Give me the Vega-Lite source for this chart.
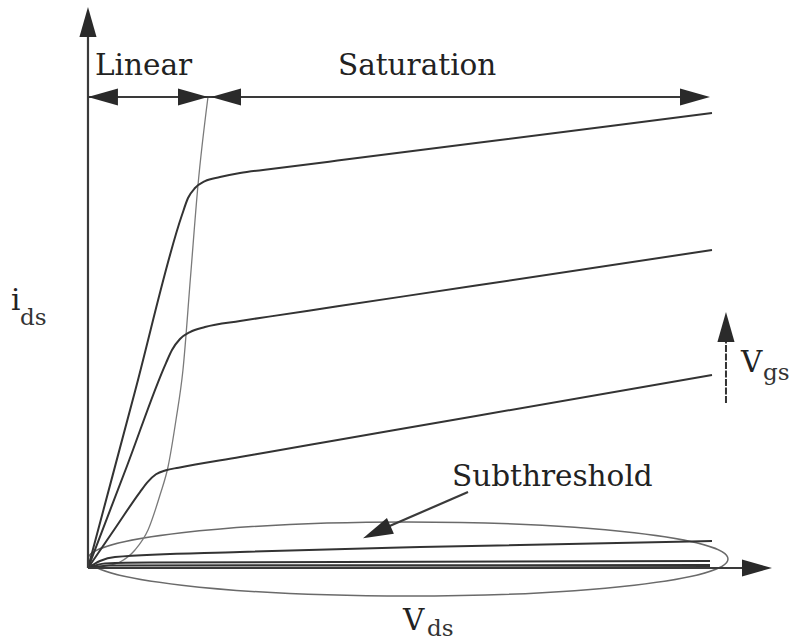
{
  "$schema": "https://vega.github.io/schema/vega-lite/v6.json",
  "width": 791,
  "height": 642,
  "autosize": {"type": "fit", "contains": "padding"},
  "padding": 0,
  "background": "white",
  "config": {"view": {"stroke": null}},
  "datasets": {
    "drain": [
      {"curve": "c3", "v": 0, "i": 0},
      {"curve": "c3", "v": 0.753, "i": 3.879},
      {"curve": "c3", "v": 1.506, "i": 7.758},
      {"curve": "c3", "v": 1.603, "i": 8.132},
      {"curve": "c3", "v": 1.715, "i": 8.352},
      {"curve": "c3", "v": 1.875, "i": 8.505},
      {"curve": "c3", "v": 2.115, "i": 8.593},
      {"curve": "c3", "v": 2.436, "i": 8.681},
      {"curve": "c3", "v": 2.9, "i": 8.762},
      {"curve": "c3", "v": 4.0, "i": 8.954},
      {"curve": "c3", "v": 6.218, "i": 9.341},
      {"curve": "c3", "v": 10, "i": 10},
      {"curve": "c2", "v": 0, "i": 0},
      {"curve": "c2", "v": 0.625, "i": 2.242},
      {"curve": "c2", "v": 1.25, "i": 4.505},
      {"curve": "c2", "v": 1.346, "i": 4.791},
      {"curve": "c2", "v": 1.474, "i": 5.033},
      {"curve": "c2", "v": 1.635, "i": 5.187},
      {"curve": "c2", "v": 1.875, "i": 5.297},
      {"curve": "c2", "v": 2.436, "i": 5.429},
      {"curve": "c2", "v": 2.9, "i": 5.525},
      {"curve": "c2", "v": 4.0, "i": 5.752},
      {"curve": "c2", "v": 6.218, "i": 6.209},
      {"curve": "c2", "v": 10, "i": 6.989},
      {"curve": "c1", "v": 0, "i": 0},
      {"curve": "c1", "v": 0.449, "i": 0.901},
      {"curve": "c1", "v": 0.833, "i": 1.67},
      {"curve": "c1", "v": 0.962, "i": 1.9},
      {"curve": "c1", "v": 1.09, "i": 2.06},
      {"curve": "c1", "v": 1.25, "i": 2.15},
      {"curve": "c1", "v": 1.45, "i": 2.205},
      {"curve": "c1", "v": 2.436, "i": 2.44},
      {"curve": "c1", "v": 2.9, "i": 2.551},
      {"curve": "c1", "v": 4.0, "i": 2.813},
      {"curve": "c1", "v": 6.218, "i": 3.341},
      {"curve": "c1", "v": 10, "i": 4.242},
      {"curve": "s1", "v": 0, "i": 0},
      {"curve": "s1", "v": 0.192, "i": 0.154},
      {"curve": "s1", "v": 0.433, "i": 0.242},
      {"curve": "s1", "v": 2.436, "i": 0.352},
      {"curve": "s1", "v": 5.321, "i": 0.462},
      {"curve": "s1", "v": 10, "i": 0.593},
      {"curve": "s2", "v": 0, "i": 0},
      {"curve": "s2", "v": 0.272, "i": 0.099},
      {"curve": "s2", "v": 0.994, "i": 0.121},
      {"curve": "s2", "v": 9.968, "i": 0.154},
      {"curve": "s3", "v": 0, "i": 0},
      {"curve": "s3", "v": 0.353, "i": 0.055},
      {"curve": "s3", "v": 9.968, "i": 0.066},
      {"curve": "s4", "v": 0, "i": 0},
      {"curve": "s4", "v": 9.968, "i": 0.02}
    ],
    "edge": [
      {"v": 0, "i": 0},
      {"v": 0.272, "i": 0.044},
      {"v": 0.513, "i": 0.132},
      {"v": 0.753, "i": 0.396},
      {"v": 0.962, "i": 0.835},
      {"v": 1.154, "i": 1.604},
      {"v": 1.282, "i": 2.22},
      {"v": 1.41, "i": 3.253},
      {"v": 1.522, "i": 4.352},
      {"v": 1.643, "i": 6.396},
      {"v": 1.763, "i": 8.418},
      {"v": 1.923, "i": 10.352}
    ],
    "segments": [
      {"seg": "yaxis", "v": 0, "i": 0},
      {"seg": "yaxis", "v": 0, "i": 12.044},
      {"seg": "xaxis", "v": 0, "i": 0},
      {"seg": "xaxis", "v": 10.769, "i": 0},
      {"seg": "regions", "v": 0, "i": 10.352},
      {"seg": "regions", "v": 9.808, "i": 10.352},
      {"seg": "pointer", "v": 4.76, "i": 0.879},
      {"seg": "pointer", "v": 6.09, "i": 1.67}
    ],
    "vgs": [
      {"v": 10.224, "i": 3.626},
      {"v": 10.224, "i": 5.121}
    ],
    "heads": [
      {"v": 0, "i": 12.0, "points": "up"},
      {"v": 10.721, "i": 0, "points": "right"},
      {"v": 0.24, "i": 10.352, "points": "left"},
      {"v": 1.683, "i": 10.352, "points": "right"},
      {"v": 2.212, "i": 10.352, "points": "left"},
      {"v": 9.728, "i": 10.352, "points": "right"},
      {"v": 10.224, "i": 5.297, "points": "up"},
      {"v": 4.627, "i": 0.791, "points": "down-left"}
    ],
    "subthreshold": [
      {"v": 5.128, "i": 0.198}
    ],
    "labels": [
      {"text": "Linear", "v": 0.112, "i": 10.835, "kind": "main"},
      {"text": "Saturation", "v": 4.006, "i": 10.835, "kind": "main"},
      {"text": "Subthreshold", "v": 5.833, "i": 1.802, "kind": "main"},
      {"text": "i", "v": -1.234, "i": 5.67, "kind": "main"},
      {"text": "ds", "v": -1.09, "i": 5.341, "kind": "sub"},
      {"text": "V", "v": 10.465, "i": 4.308, "kind": "main"},
      {"text": "gs", "v": 10.817, "i": 4.132, "kind": "sub"},
      {"text": "V", "v": 5.048, "i": -1.363, "kind": "main"},
      {"text": "ds", "v": 5.433, "i": -1.495, "kind": "sub"}
    ]
  },
  "encoding": {
    "x": {"field": "v", "type": "quantitative", "axis": null,
          "scale": {"domain": [-1.41, 11.266], "nice": false, "zero": false}},
    "y": {"field": "i", "type": "quantitative", "axis": null,
          "scale": {"domain": [-1.626, 12.484], "nice": false, "zero": false}}
  },
  "layer": [
    {
      "data": {"name": "subthreshold"},
      "mark": {
        "type": "point",
        "shape": "M-1,0A1,0.1156 0 0 1 1,0A1,0.1156 0 0 1 -1,0Z",
        "size": 409600,
        "filled": false,
        "stroke": "#6a6a6a",
        "strokeWidth": 1.5,
        "opacity": 1
      }
    },
    {
      "data": {"name": "edge"},
      "mark": {"type": "line", "interpolate": "monotone", "color": "#7a7a7a", "strokeWidth": 1.3}
    },
    {
      "data": {"name": "drain"},
      "mark": {"type": "line", "interpolate": "monotone", "color": "#333333", "strokeWidth": 2},
      "encoding": {"detail": {"field": "curve", "type": "nominal"}}
    },
    {
      "data": {"name": "segments"},
      "mark": {"type": "line", "color": "#3a3a3a", "strokeWidth": 2.2},
      "encoding": {"detail": {"field": "seg", "type": "nominal"}}
    },
    {
      "data": {"name": "vgs"},
      "mark": {"type": "line", "color": "#333333", "strokeWidth": 2, "strokeDash": [7, 1.5]}
    },
    {
      "data": {"name": "heads"},
      "mark": {
        "type": "point",
        "shape": "M1,0L-1,-0.57L-1,0.57Z",
        "size": 900,
        "filled": true,
        "color": "#2a2a2a",
        "opacity": 1
      },
      "encoding": {
        "angle": {"field": "points", "type": "nominal", "legend": null,
                  "scale": {"type": "ordinal", "domain": ["right", "left", "up", "down-left"], "range": [0, 180, 270, 156]}}
      }
    },
    {
      "data": {"name": "labels"},
      "transform": [{"filter": "datum.kind === 'main'"}],
      "mark": {"type": "text", "align": "left", "baseline": "alphabetic", "font": "DejaVu Serif", "fontSize": 29.5, "color": "#222222"},
      "encoding": {"text": {"field": "text"}}
    },
    {
      "data": {"name": "labels"},
      "transform": [{"filter": "datum.kind === 'sub'"}],
      "mark": {"type": "text", "align": "left", "baseline": "alphabetic", "font": "DejaVu Serif", "fontSize": 23, "color": "#333333"},
      "encoding": {"text": {"field": "text"}}
    }
  ]
}
